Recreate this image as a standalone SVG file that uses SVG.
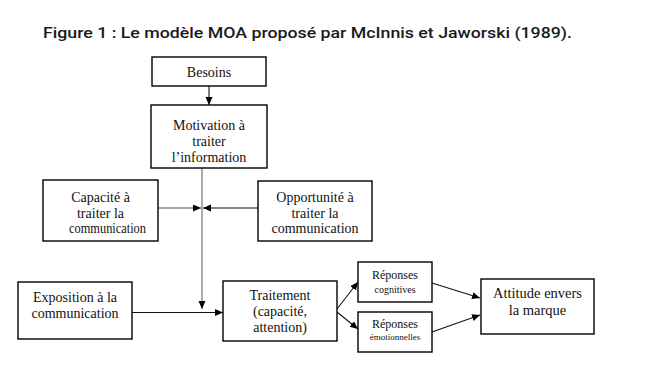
<svg xmlns="http://www.w3.org/2000/svg" width="656" height="366" viewBox="0 0 656 366">
<style>
.box{fill:#fff;stroke:#000;stroke-width:1.4}
.t{font-family:"Liberation Serif","Times New Roman",serif;font-size:14px;fill:#111;text-anchor:middle}
.s12{font-size:12px}
.s10{font-size:10px}
.s9{font-size:9px}
.c{fill:none;stroke:#111;stroke-width:1.1}
.g{stroke:#888;stroke-width:1.4}
.title{font-family:Roboto,"Liberation Sans",sans-serif;font-weight:500;font-size:15.5px;fill:#1a1a1a}
</style>
<defs>
<marker id="ah" markerUnits="userSpaceOnUse" markerWidth="9" markerHeight="8" refX="8" refY="3.5" orient="auto">
<path d="M0,0 L8,3.5 L0,7 z" fill="#000"/>
</marker>
</defs>
<rect width="656" height="366" fill="#fff"/>
<text class="title" x="43" y="37.5" textLength="529" lengthAdjust="spacingAndGlyphs">Figure 1 : Le modèle MOA proposé par McInnis et Jaworski (1989).</text>

<g id="connectors">
<line class="c" x1="209" y1="86" x2="209" y2="105" marker-end="url(#ah)"/>
<line class="c g" x1="202" y1="168" x2="202" y2="309" marker-end="url(#ah)"/>
<line class="c g" x1="158" y1="208" x2="201" y2="208" marker-end="url(#ah)"/>
<line class="c" x1="258" y1="208" x2="203" y2="208" marker-end="url(#ah)"/>
<line class="c" x1="132" y1="312.5" x2="223" y2="312.5" marker-end="url(#ah)"/>
<line class="c" x1="337" y1="309" x2="358" y2="282" marker-end="url(#ah)"/>
<line class="c" x1="337" y1="312" x2="358" y2="329" marker-end="url(#ah)"/>
<line class="c" x1="432" y1="283" x2="480" y2="298" marker-end="url(#ah)"/>
<line class="c" x1="432" y1="332" x2="480" y2="315" marker-end="url(#ah)"/>
</g>

<g id="besoins">
<rect class="box" x="152" y="57" width="114" height="29"/>
<text class="t" x="209" y="76.5">Besoins</text>
</g>
<g id="motivation">
<rect class="box" x="151" y="105" width="116" height="63"/>
<text class="t" x="209" y="130">Motivation à</text>
<text class="t" x="209" y="146">traiter</text>
<text class="t" x="209" y="162">l’information</text>
</g>
<g id="capacite">
<rect class="box" x="43" y="180" width="115" height="61"/>
<text class="t" x="100.5" y="201.5">Capacité à</text>
<text class="t" x="100.5" y="217.5">traiter la</text>
<text class="t" x="107.5" y="233" textLength="77" lengthAdjust="spacingAndGlyphs">communication</text>
</g>
<g id="opportunite">
<rect class="box" x="258" y="181" width="114" height="60"/>
<text class="t" x="315" y="201.5">Opportunité à</text>
<text class="t" x="315" y="217.5">traiter la</text>
<text class="t" x="315" y="233">communication</text>
</g>
<g id="exposition">
<rect class="box" x="18" y="282" width="114" height="57"/>
<text class="t" x="75" y="302">Exposition à la</text>
<text class="t" x="75" y="318">communication</text>
</g>
<g id="traitement">
<rect class="box" x="223" y="281" width="114" height="60"/>
<text class="t" x="280" y="300">Traitement</text>
<text class="t" x="280" y="316">(capacité,</text>
<text class="t" x="280" y="332">attention)</text>
</g>
<g id="cognitives">
<rect class="box" x="358" y="262" width="74" height="40"/>
<text class="t s12" x="395" y="279">Réponses</text>
<text class="t s10" x="395" y="293">cognitives</text>
</g>
<g id="emotionnelles">
<rect class="box" x="358" y="312" width="74" height="40"/>
<text class="t s12" x="395" y="328">Réponses</text>
<text class="t s9" x="395" y="340">émotionnelles</text>
</g>
<g id="attitude">
<rect class="box" x="481" y="279" width="113" height="55"/>
<text class="t" style="font-size:14.5px" x="537.5" y="298">Attitude envers</text>
<text class="t" style="font-size:14.5px" x="537.5" y="315">la marque</text>
</g>
</svg>
